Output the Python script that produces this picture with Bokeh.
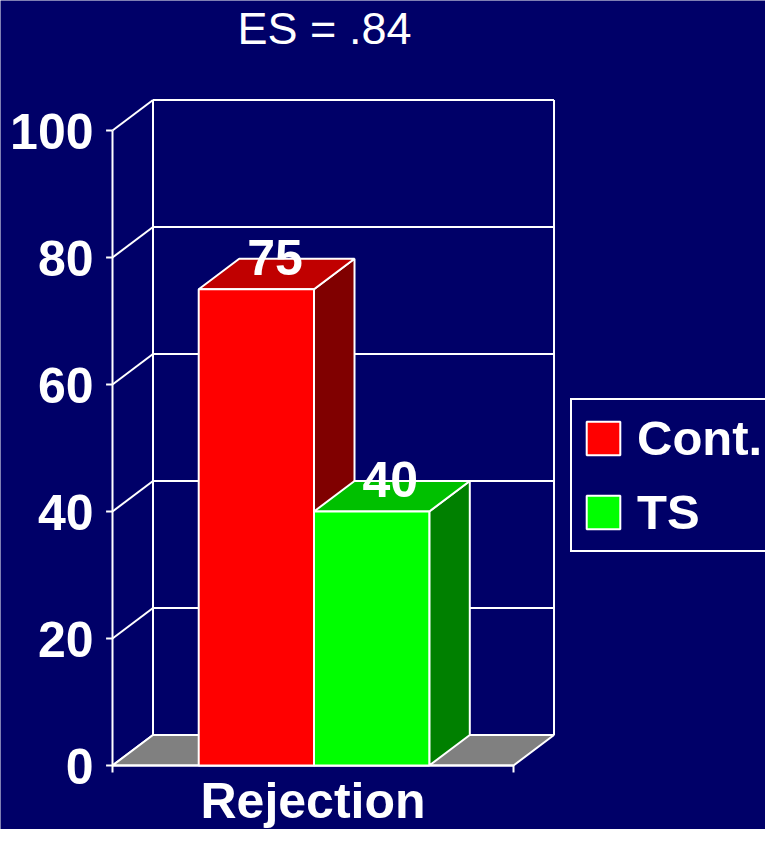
import numpy as np
from bokeh.plotting import figure
from bokeh.models import Legend, LegendItem, Label
from bokeh.core.properties import value
from bokeh.embed import file_html
from bokeh.resources import INLINE

# ---- data ----
title_text = "ES = .84"
category = "Rejection"
series = ["Cont.", "TS"]
values = [75, 40]
tick_values = [0, 20, 40, 60, 80, 100]
tick_labels = ["0", "20", "40", "60", "80", "100"]

# ---- styles ----
front_colors = ["#ff0000", "#00ff00"]
side_colors = ["#800000", "#008000"]
top_colors = ["#c00000", "#00c000"]
BG = "#000068"
FONT = "Liberation Sans"
DX = 0.101      # depth offset (x units)
DY = 4.8        # depth offset (value units)
BAR_LEFT = 0.215
BAR_W = 0.2875
YMAX = 100

p = figure(width=765, height=829, x_range=(-0.2793, 1.6284), y_range=(-10.08, 120.47),
           min_border=0, toolbar_location=None, x_axis_location=None, y_axis_location=None,
           output_backend="svg", background_fill_color=BG, border_fill_color=BG,
           outline_line_color=None)
p.grid.visible = False

W = "white"
LW = 2

# back wall gridlines
tv = np.array(tick_values, dtype=float)
p.segment(x0=np.full(len(tv), DX), y0=tv + DY, x1=np.full(len(tv), 1 + DX), y1=tv + DY,
          line_color=W, line_width=LW)
# side wall diagonals
p.segment(x0=np.zeros(len(tv)), y0=tv, x1=np.full(len(tv), DX), y1=tv + DY,
          line_color=W, line_width=LW)
# back wall verticals
p.segment(x0=[DX, 1 + DX], y0=[DY, DY], x1=[DX, 1 + DX], y1=[YMAX + DY, YMAX + DY],
          line_color=W, line_width=LW)

# floor
p.patch(x=[0, DX, 1 + DX, 1], y=[0, DY, DY, 0], fill_color="#808080",
        line_color=W, line_width=LW)

# front axis line and ticks
p.segment(x0=[0], y0=[0], x1=[0], y1=[YMAX], line_color=W, line_width=LW)
p.segment(x0=np.full(len(tv), -0.016), y0=tv, x1=np.zeros(len(tv)), y1=tv,
          line_color=W, line_width=LW)
p.segment(x0=[0, 1], y0=[0, 0], x1=[0, 1], y1=[-1.1, -1.1], line_color=W, line_width=LW)
p.segment(x0=[0], y0=[0], x1=[1], y1=[0], line_color=W, line_width=LW)

# tick labels
p.text(x=np.zeros(len(tv)), y=tv, text=tick_labels, x_offset=-19, y_offset=1,
       text_align="right", text_baseline="middle", text_color=W,
       text_font=value(FONT), text_font_style="bold", text_font_size="50px")

# bars
front_renderers = []
for i, v in enumerate(values):
    x0 = BAR_LEFT + i * BAR_W
    x1 = x0 + BAR_W
    p.patch(x=[x1, x1 + DX, x1 + DX, x1], y=[0, DY, v + DY, v],
            fill_color=side_colors[i], line_color=W, line_width=LW)
    p.patch(x=[x0, x0 + DX, x1 + DX, x1], y=[v, v + DY, v + DY, v],
            fill_color=top_colors[i], line_color=W, line_width=LW)
    r = p.quad(left=[x0], right=[x1], bottom=[0], top=[v],
               fill_color=front_colors[i], line_color=W, line_width=LW)
    front_renderers.append(r)

# value labels
for i, v in enumerate(values):
    x0 = BAR_LEFT + i * BAR_W
    p.text(x=[x0 + BAR_W / 2 + DX / 2 - 0.004], y=[v], text=[str(v)], y_offset=-32,
           text_align="center", text_baseline="middle", text_color=W,
           text_font=value(FONT), text_font_style="bold", text_font_size="50px")

# category label
p.text(x=[0.5], y=[0], text=[category], y_offset=36, text_align="center",
       text_baseline="middle", text_color=W, text_font=value(FONT),
       text_font_style="bold", text_font_size="50px")

# title
p.add_layout(Label(x=324, y=801, x_units="screen", y_units="screen", text=title_text,
                   text_align="center", text_baseline="middle", text_color=W,
                   text_font=FONT, text_font_size="45px"))

legend = Legend(items=[LegendItem(label=series[i], renderers=[front_renderers[i]])
                       for i in range(len(series))],
                location=(570, 277), orientation="vertical",
                label_text_font=FONT, label_text_font_style="bold",
                label_text_font_size="49px", label_text_color=W,
                glyph_width=42, glyph_height=42, label_standoff=13,
                padding=10, spacing=18, margin=0,
                border_line_color=W, border_line_width=2, border_line_alpha=1.0,
                background_fill_color=BG, background_fill_alpha=1.0)
p.add_layout(legend)

open("out.html", "w").write(file_html(p, INLINE))
